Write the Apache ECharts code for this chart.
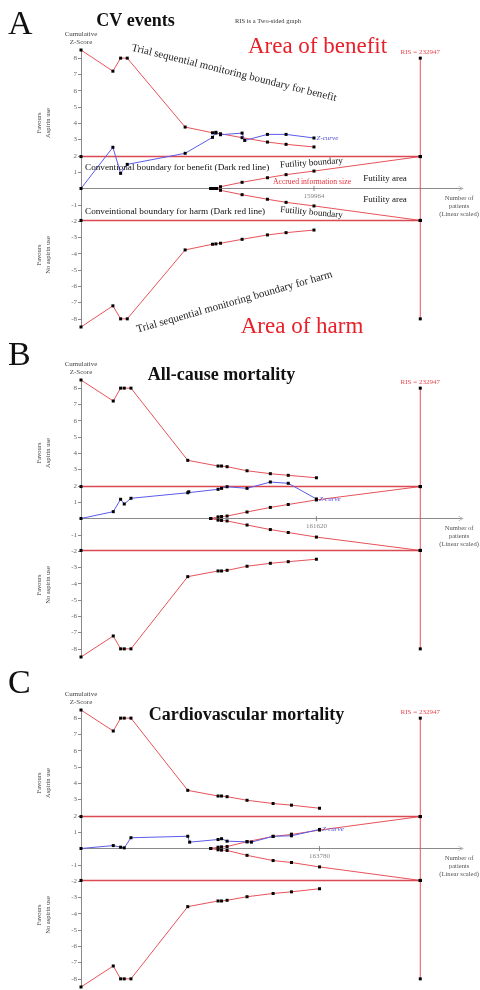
<!DOCTYPE html>
<html><head><meta charset="utf-8">
<script src="https://cdn.jsdelivr.net/npm/echarts@6/dist/echarts.min.js"></script>
<style>html,body{margin:0;padding:0;background:#fff}#c{width:480px;height:990px}</style>
</head><body><div id="c"></div>
<script>
// ---- constants ----
const RIS = 232947;          // required information size
const CONV = 1.96;           // conventional boundary
const RIS_TOP = 8;           // vertical RIS line extent
const yTicks = [8,7,6,5,4,3,2,1,-1,-2,-3,-4,-5,-6,-7,-8];

// ---- Panel A: CV events ----
const A_bN = [0, 21900, 27200, 31750, 71500, 90300, 92600, 95800, 110600, 128000, 140800, 159964];
const A_bZ = [8.5, 7.2, 8.0, 8.0, 3.77, 3.42, 3.40, 3.36, 3.12, 2.85, 2.71, 2.55];
const A_zN = [0, 21900, 27200, 31750, 71500, 90300, 92600, 95800, 110600, 112400, 128000, 140800, 159964];
const A_zZ = [0, 2.53, 0.93, 1.48, 2.16, 3.14, 3.45, 3.30, 3.40, 2.95, 3.32, 3.32, 3.10];
const A_fN = [89100, 91000, 93000, 95800, 110600, 128000, 140800, 159964];
const A_fZ = [0, 0, 0, 0.11, 0.38, 0.66, 0.85, 1.07];
const A_xTick = [159964];

// ---- Panel B: All-cause mortality ----
const B_bN = [0, 22150, 27200, 29700, 34300, 73300, 94100, 96500, 100300, 114000, 130000, 142300, 161620];
const B_bZ = [8.5, 7.21, 8.0, 8.0, 8.0, 3.57, 3.22, 3.22, 3.18, 2.93, 2.75, 2.65, 2.50];
const B_zN = [0, 22150, 27200, 29700, 34300, 73300, 74000, 94100, 96500, 100300, 114000, 130000, 142300, 161620];
const B_zZ = [0, 0.42, 1.18, 0.89, 1.24, 1.58, 1.64, 1.79, 1.85, 1.95, 1.85, 2.24, 2.16, 1.20];
const B_fN = [89100, 94100, 96500, 100300, 114000, 130000, 142300, 161620];
const B_fZ = [0, 0.10, 0.12, 0.15, 0.40, 0.68, 0.86, 1.14];
const B_xTick = [161620];

// ---- Panel C: Cardiovascular mortality ----
const C_bN = [0, 22150, 27200, 29700, 34300, 73300, 94100, 96500, 100300, 114000, 131900, 144500, 163780];
const C_bZ = [8.5, 7.21, 8.0, 8.0, 8.0, 3.57, 3.22, 3.22, 3.18, 2.96, 2.76, 2.66, 2.47];
const C_zN = [0, 22150, 27200, 29700, 34300, 73300, 74600, 94100, 96500, 100300, 114000, 117000, 131900, 144500, 144500, 163780];
const C_zZ = [0, 0.18, 0.08, 0.04, 0.66, 0.75, 0.39, 0.55, 0.60, 0.45, 0.41, 0.39, 0.75, 0.78, 0.88, 1.17];
const C_fN = [89100, 94100, 96500, 100300, 114000, 131900, 144500, 163780];
const C_fZ = [0, 0.08, 0.10, 0.12, 0.42, 0.74, 0.86, 1.13];
const C_xTick = [163780];

const titles = ['CV events', 'All-cause mortality', 'Cardiovascular mortality'];
const letters = ['A', 'B', 'C'];

// ---- layout / style ----
const SERIF = '"Liberation Serif","DejaVu Serif",serif';
const RED = '#e8525a';
const CONVRED = '#db4a50';
const BLUE = '#5b5bea';
const AXIS = '#8a8a8a';
const GRID_TOPS = [50, 380, 710];
const GRID_H = 277;
const TITLE_POS = [[135.5, 21], [221.5, 375], [246.5, 715]];
const LETTER_Y = [25, 356, 684];

const panels = [
  {bN:A_bN, bZ:A_bZ, zN:A_zN, zZ:A_zZ, fN:A_fN, fZ:A_fZ, xt:A_xTick},
  {bN:B_bN, bZ:B_bZ, zN:B_zN, zZ:B_zZ, fN:B_fN, fZ:B_fZ, xt:B_xTick},
  {bN:C_bN, bZ:C_bZ, zN:C_zN, zZ:C_zZ, fN:C_fN, fZ:C_fZ, xt:C_xTick}
];

function pairs(xs, ys, s) { s = s || 1; return xs.map((x, i) => [x, s * ys[i]]); }

function line(gi, data, color, width, extra) {
  return Object.assign({
    type: 'line', xAxisIndex: gi, yAxisIndex: gi, data: data,
    symbol: 'rect', symbolSize: 3, showSymbol: true,
    itemStyle: {color: '#000'}, lineStyle: {color: color, width: width},
    silent: true, animation: false, z: 3
  }, extra || {});
}

const grid = GRID_TOPS.map(t => ({left: 81, top: t, width: 381, height: GRID_H}));

const xAxis = panels.map((p, i) => ({
  type: 'value', gridIndex: i, min: 0, max: 261000,
  axisLine: {onZero: true, lineStyle: {color: AXIS, width: 1},
    symbol: ['none', 'path://M0,10L5,0L10,10L9,10L5,2L1,10Z'], symbolSize: [8, 5]},
  axisTick: {show: false},
  axisLabel: {show: false},
  splitLine: {show: false},
  name: 'Number of\npatients\n(Linear scaled)', nameLocation: 'end', nameGap: -2,
  nameTextStyle: {fontSize: 6.6, lineHeight: 8, color: '#555', fontFamily: SERIF,
    align: 'center', verticalAlign: 'top', padding: [6, 0, 0, 0]}
}));

const yAxis = panels.map((p, i) => ({
  type: 'value', gridIndex: i, min: -8.5, max: 8.5,
  axisLine: {show: true, onZero: false, lineStyle: {color: AXIS}},
  axisTick: {show: true, customValues: yTicks, length: 3, lineStyle: {color: AXIS}},
  axisLabel: {show: true, customValues: yTicks, fontSize: 7, color: '#666', fontFamily: SERIF, margin: 4},
  splitLine: {show: false},
  name: 'Cumulative\nZ-Score', nameLocation: 'end', nameGap: 4,
  nameTextStyle: {fontSize: 7, lineHeight: 8, color: '#444', fontFamily: SERIF, align: 'center'}
}));

const series = [];
panels.forEach((p, i) => {
  // trial sequential monitoring boundaries
  series.push(line(i, pairs(p.bN, p.bZ), RED, 1));
  series.push(line(i, pairs(p.bN, p.bZ, -1), RED, 1));
  // futility boundaries
  series.push(line(i, pairs(p.fN, p.fZ).concat([[RIS, CONV]]), RED, 1));
  series.push(line(i, pairs(p.fN, p.fZ, -1).concat([[RIS, -CONV]]), RED, 1));
  // conventional boundaries
  series.push(line(i, [[0, CONV], [RIS, CONV]], CONVRED, 1.5));
  series.push(line(i, [[0, -CONV], [RIS, -CONV]], CONVRED, 1.5));
  // RIS vertical line
  const risData = [[RIS, RIS_TOP], [RIS, CONV], [RIS, -CONV], [RIS, -RIS_TOP]].map((v, k) => k === 0 ?
    {value: v, label: {show: true, position: 'top', distance: 1, formatter: 'RIS = ' + RIS,
      color: '#e8474f', fontSize: 7, fontFamily: SERIF}} : {value: v});
  series.push(line(i, risData, RED, 1));
  // Z-curve
  const zd = pairs(p.zN, p.zZ).map((v, k, arr) => k === arr.length - 1 ?
    {value: v, label: {show: true, position: 'right', distance: 1, formatter: 'Z-curve',
      color: '#4a4ae0', fontSize: 7, fontStyle: 'italic', fontFamily: SERIF}} : {value: v});
  series.push(line(i, zd, BLUE, 1, {z: 4}));
  // accrued-size tick on the x axis
  series.push({
    type: 'scatter', xAxisIndex: i, yAxisIndex: i, data: p.xt.map(v => [v, 0]),
    symbol: 'rect', symbolSize: [1, 5], itemStyle: {color: '#777'}, silent: true, z: 2,
    label: {show: true, position: 'bottom', distance: 2, formatter: d => String(d.value[0]),
      fontSize: 7, color: '#666', fontFamily: SERIF}
  });
});

function T(text, x, y, size, o) {
  o = o || {};
  return {type: 'text', x: x, y: y, rotation: o.rot || 0, silent: true, z: 10,
    style: {text: text, fontFamily: SERIF, fontSize: size, fontWeight: o.bold ? 'bold' : 'normal',
      fill: o.fill || '#111', align: o.align || 'center', verticalAlign: 'middle', lineHeight: o.lh}};
}

const graphic = [];
GRID_TOPS.forEach((t, i) => {
  graphic.push(T(letters[i], 8, LETTER_Y[i], 34, {align: 'left'}));
  graphic.push(T(titles[i], TITLE_POS[i][0], TITLE_POS[i][1], 18, {bold: true}));
  graphic.push(T('Favours\nAspirin use', 43.5, t + 73, 6.5, {rot: Math.PI / 2, lh: 9, fill: '#444'}));
  graphic.push(T('Favours\nNo aspirin use', 43.5, t + 205, 6.5, {rot: Math.PI / 2, lh: 9, fill: '#444'}));
});
// Panel A annotations
graphic.push(
  T('RIS is a Two-sided graph', 268, 21, 6.5, {fill: '#333'}),
  T('Area of benefit', 317.5, 47, 23, {fill: '#e8202a'}),
  T('Area of harm', 302, 327, 23, {fill: '#e8202a'}),
  T('Trial sequential monitoring boundary for benefit', 234, 73, 10.9, {rot: -0.243, fill: '#222'}),
  T('Trial sequential monitoring boundary for harm', 234.5, 302, 10.9, {rot: 0.277, fill: '#222'}),
  T('Conventional boundary for benefit (Dark red line)', 85, 168, 9.2, {align: 'left'}),
  T('Conveintional boundary for harm (Dark red line)', 85, 211.5, 9.2, {align: 'left'}),
  T('Futility boundary', 311.5, 163, 9, {rot: 0.07}),
  T('Futility boundary', 311.5, 212.5, 9, {rot: -0.09}),
  T('Accrued information size', 312, 182, 7.7, {fill: '#e8303a'}),
  T('Futility area', 385, 179, 9),
  T('Futility area', 385, 199.5, 9)
);

const chart = echarts.init(document.getElementById('c'), null, {renderer: 'canvas'});
chart.setOption({
  animation: false,
  backgroundColor: '#fff',
  grid: grid, xAxis: xAxis, yAxis: yAxis, series: series, graphic: graphic
});
</script></body></html>
